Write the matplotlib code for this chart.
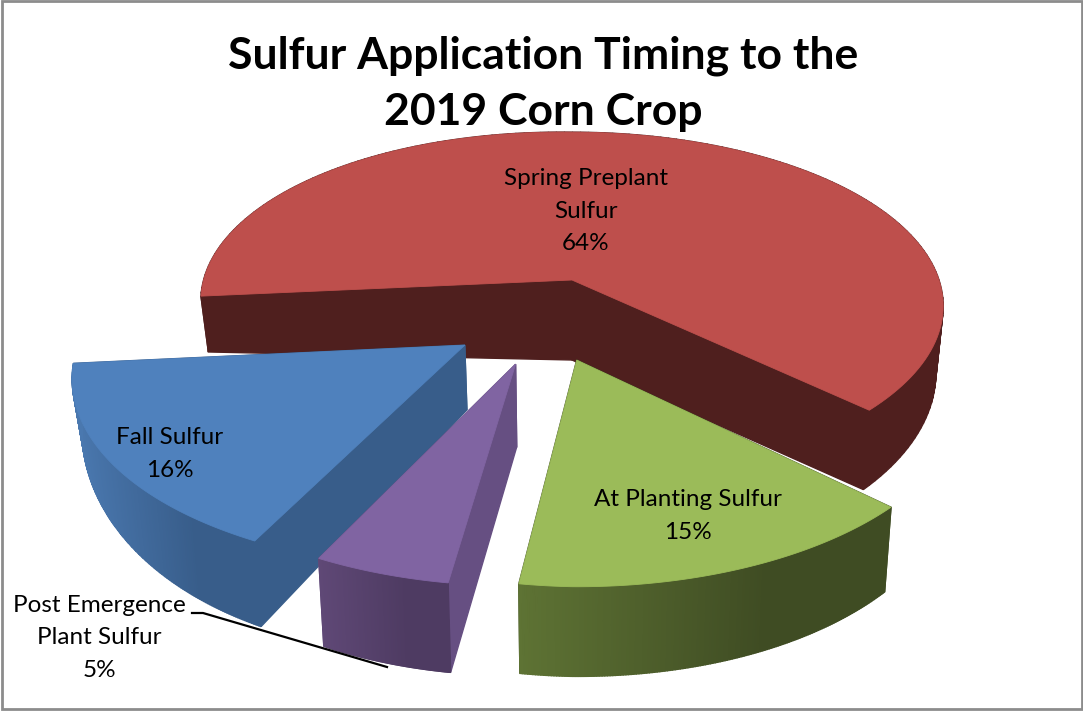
import matplotlib
matplotlib.use('Agg')
import matplotlib.pyplot as plt
import numpy as np
from matplotlib.colors import to_rgb
from matplotlib.patches import Rectangle

# Slices, clockwise from the left edge of the red one
labels = ['Spring Preplant\nSulfur\n64%', 'At Planting Sulfur\n15%',
          'Post Emergence\nPlant Sulfur\n5%', 'Fall Sulfur\n16%']
values = [64, 15, 5, 16]

top_colors = ['#BE4F4C', '#9BBB59', '#8064A2', '#4F81BD']
cut_colors = ['#4F1F1E', '#3F4C23', '#664F82', '#385D8A']
wall_left = ['#4F1F1E', '#5E7334', '#5F4876', '#4A78AF']
wall_right = ['#4F1F1E', '#3F4C23', '#4E3B62', '#385D8A']

# pie slice offsets on the disc plane, radius and inner edge height per slice
offsets = [(0, 0), (0.012, -0.44), (-0.143, -0.465), (-0.276, -0.37)]
radii = [1, 0.98, 0.955, 0.99]
tip_heights = [1, 1, 1, 0.8]
label_pos = [(586, 211), (688, 516), (99, 638), (170, 454)]

start_angle = 187
cx, cy = 572, 280
rx, ry = 367, 170
persp = 0.15
tilt = 0.0134
depth = 80


def project(u, v):
    w = 1 + persp * v
    x = cx + rx * u / w
    return x, cy - ry * v / w + tilt * np.minimum(x - cx, 0)


def drop(u, v, h=1):
    # same point on the bottom face of the pie
    x, y = project(u, v)
    w = 1 + persp * v
    q = min(max((1 - w) / 0.22, 0), 1)
    side = (x - cx) / rx
    a = 0.33 if side < 0 else 0.18
    d = (depth + 10 * q) * (1 - a * side ** 2 * (1 - q))
    return cx + (x - cx) * 0.98, y + h * d


def face(ax, pts, color, z):
    ax.fill([p[0] for p in pts], [p[1] for p in pts], color=color, lw=1, zorder=z)


fig = plt.figure(figsize=(10.83, 7.11), dpi=100)
ax = fig.add_axes([0, 0, 1, 1])
ax.set_xlim(0, 1083)
ax.set_ylim(711, 0)
ax.axis('off')

edges = start_angle - np.cumsum([0] + values) * 3.6
# back to front so nearer slices cover the others
order = [0, 3, 2, 1]

for n, i in enumerate(order):
    base = 10 * (n + 1)
    a0, a1 = edges[i], edges[i + 1]
    ou, ov = offsets[i]
    theta = np.radians(np.linspace(a0, a1, 160))
    us = ou + radii[i] * np.cos(theta)
    vs = ov + radii[i] * np.sin(theta)

    # outer wall as thin strips, shaded left to right
    c0, c1 = np.array(to_rgb(wall_left[i])), np.array(to_rgb(wall_right[i]))
    xs0 = project(us, vs)[0]
    for j in range(len(theta) - 1):
        t = (xs0[j] - xs0.min()) / (xs0.max() - xs0.min())
        col = c0 + (c1 - c0) * min(1, t * 1.5)
        pts = [project(us[j], vs[j]), project(us[j + 1], vs[j + 1]),
               drop(us[j + 1], vs[j + 1]), drop(us[j], vs[j])]
        back = np.sin(theta[j]) > 0
        face(ax, pts, col, base + (0 if back else 2))

    # the two cut faces
    for k in (0, -1):
        pts = [project(ou, ov), project(us[k], vs[k]), drop(us[k], vs[k]), drop(ou, ov, tip_heights[i])]
        face(ax, pts, cut_colors[i], base + 1)

    # top
    px, py = project(us, vs)
    tip = project(ou, ov)
    ax.fill(np.r_[tip[0], px], np.r_[tip[1], py], color=top_colors[i], lw=0.6, zorder=base + 3)

# leader line for the small slice
ax.plot([192, 203, 387], [613, 613, 667], color='black', lw=1.6, zorder=60)

for lab, (x, y) in zip(labels, label_pos):
    ax.text(x, y, lab, ha='center', va='center', family='Lato', fontsize=17.5,
            linespacing=1.65, color='black', zorder=70)

ax.text(543, 84, 'Sulfur Application Timing to the\n2019 Corn Crop', ha='center', va='center',
        family='Lato', weight='bold', fontsize=32, linespacing=1.47, color='black', zorder=70)

ax.add_patch(Rectangle((2, 1), 1079.5, 708, fill=False, ec='#8C8C8C', lw=2, zorder=80))

fig.savefig('out.png', dpi=100)
print('saved')
